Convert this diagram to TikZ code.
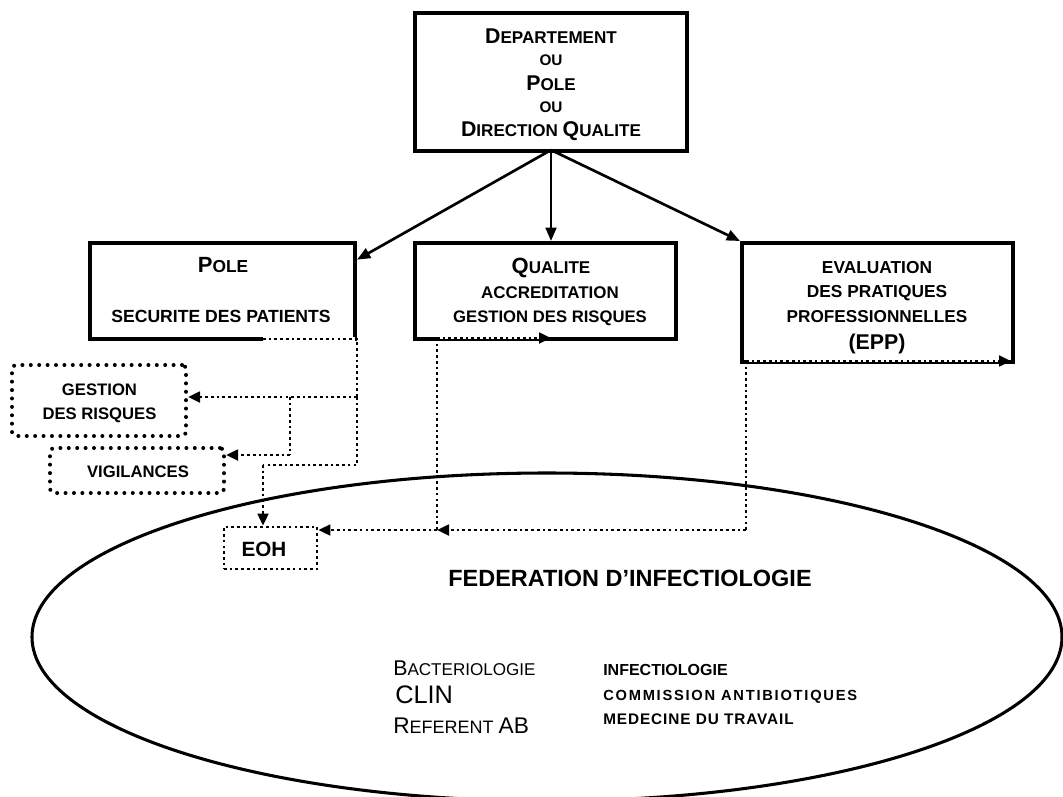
\documentclass[tikz,border=0pt]{standalone}
\usepackage{fontspec}
\setmainfont{Liberation Sans}
\usetikzlibrary{arrows.meta}
\newcommand{\fs}[1]{\fontsize{#1}{#1}\selectfont}
\begin{document}
\begin{tikzpicture}[x=0.75pt,y=-0.75pt,
  box/.style={draw, line width=3pt, inner sep=0pt},
  conn/.style={line width=2pt, dash pattern=on 2pt off 2.3pt},
  dotbox/.style={draw, line width=3pt, dash pattern=on 0pt off 6.3pt, line cap=round, rounded corners=3pt, inner sep=0pt},
  finebox/.style={draw, line width=2pt, dash pattern=on 2pt off 2.3pt, inner sep=0pt},
  tip/.style={-{Triangle[length=9pt,width=8pt]}},
  sarrow/.style={line width=2pt, -{Triangle[length=10pt,width=8pt]}},
  lbl/.style={font=\bfseries, align=center, inner sep=0pt, anchor=base},
  txt/.style={inner sep=0pt, anchor=base west},
  cover/.style={draw=white, line width=3.4pt},
  halfcover/.style={draw=white, line width=1.6pt},
]
\useasboundingbox (0,0) rectangle (1063,796);
\clip (0,0) rectangle (1063,796);

% ellipse
\draw[line width=2.3pt] (547,637) ellipse [x radius=386.25pt, y radius=123pt];

% boxes
\node[box, minimum width=204pt, minimum height=103.5pt] (dep) at (551,82) {};
\node[box, minimum width=198.75pt, minimum height=72pt] (pole) at (222.5,291) {};
\node[box, minimum width=195.75pt, minimum height=72pt] (qual) at (545.5,291) {};
\node[box, minimum width=203.25pt, minimum height=89.25pt] (epp) at (877.5,302.5) {};
\node[dotbox, minimum width=130.5pt, minimum height=53.25pt] (gest) at (99,400.5) {};
\node[dotbox, minimum width=130.5pt, minimum height=33.75pt] (vig) at (137,470.5) {};
\node[finebox, minimum width=69.75pt, minimum height=31.5pt] (eoh) at (270.5,548) {};

% texts
\node[lbl] (t1) at (551,43) {\fs{16}D\fs{12.8}EPARTEMENT};
\node[lbl] (t2) at (551,65) {\fs{11.5}OU};
\node[lbl] (t3) at (551,90) {\fs{16}P\fs{12.8}OLE};
\node[lbl] (t4) at (551,112) {\fs{11.5}OU};
\node[lbl] (t5) at (551,136) {\fs{16}D\fs{12.8}IRECTION \fs{16}Q\fs{12.8}UALITE};

\node[lbl] (p1t) at (223,272) {\fs{16.5}P\fs{13}OLE};
\node[lbl] (p2t) at (221,322) {\fs{13.2}SECURITE DES PATIENTS};

\node[lbl] (q1t) at (551,273) {\fs{16.5}Q\fs{12.8}UALITE};
\node[lbl] (q2t) at (550,298) {\fs{12.7}ACCREDITATION};
\node[lbl] (q3t) at (550,322) {\fs{12.5}GESTION DES RISQUES};

\node[lbl] (e1t) at (877,273) {\fs{13}EVALUATION};
\node[lbl] (e2t) at (877,297) {\fs{13}DES PRATIQUES};
\node[lbl] (e3t) at (877,322) {\fs{12.9}PROFESSIONNELLES};
\node[lbl] (e4t) at (877,349) {\fs{16}(EPP)};

\node[lbl] (g1t) at (99.5,395) {\fs{12.5}GESTION};
\node[lbl] (g2t) at (99.5,419) {\fs{12.5}DES RISQUES};
\node[lbl] (vt) at (138,477) {\fs{12.5}VIGILANCES};
\node[lbl] (eoht) at (264,556) {\fs{15.5}EOH};

\node[lbl] (fed) at (630,586) {\fs{17.6}FEDERATION D’INFECTIOLOGIE};

\node[txt] (b1) at (393,675) {\fs{16}B\fs{12.8}ACTERIOLOGIE};
\node[txt] (b2) at (395,703) {\fs{19}CLIN};
\node[txt] (b3) at (393,733) {\fs{17}R\fs{13.5}EFERENT \fs{17}AB};
\node[txt, font=\bfseries] (c1) at (603,675) {\fs{12}INFECTIOLOGIE};
\node[txt, font=\bfseries] (c2) at (603,700) {\fs{11}\addfontfeatures{LetterSpace=12}COMMISSION ANTIBIOTIQUES};
\node[txt, font=\bfseries] (c3) at (603,724) {\fs{11.5}\addfontfeatures{LetterSpace=6}MEDECINE DU TRAVAIL};

% solid arrows
\coordinate (apex) at (551,150);
\draw[sarrow] (apex) -- ([yshift=-14pt]pole.north east);
\draw[sarrow] (apex) -- (apex |- qual.north);
\draw[sarrow] (apex) -- (epp.north west);

% dotted connectors from POLE
\coordinate (p0) at (263,339);
\coordinate (p1) at (357,339);
\coordinate (p2) at (357,397);
\coordinate (p3) at (290,397);
\coordinate (p4) at (290,455);
\coordinate (p5) at (357,465);
\coordinate (p6) at (263,465);
\draw[cover] (p0) -- (355,339);
\draw[conn] (p0) -- (p1) -- (p2);
\draw[conn,tip] (p2) -- (gest.east |- p2);
\draw[conn] (p3) -- (p4);
\draw[conn,tip] (p4) -- (vig.east |- p4);
\draw[conn] (p2) -- (p5) -- (p6);
\draw[conn,tip] (p6) -- (eoh.north -| p6);

% from QUALITE
\coordinate (m0) at (437,338);
\coordinate (m1) at (551,338);
\coordinate (m2) at (437,530);
\draw[halfcover] (m0) -- (549,338);
\draw[conn,tip] (m0) -- (m1);
\draw[conn] (m0) -- (m2);
\draw[conn,tip] (m2) -- (eoh.east |- m2);

% from EPP
\coordinate (r0) at (746,361);
\coordinate (r1) at (1011,361);
\coordinate (r2) at (746,530);
\draw[halfcover] (r0) -- (1009,361);
\draw[conn,tip] (r0) -- (r1);
\draw[conn] (r0) -- (r2);
\draw[conn,tip] (r2) -- (m2);
\end{tikzpicture}
\end{document}
